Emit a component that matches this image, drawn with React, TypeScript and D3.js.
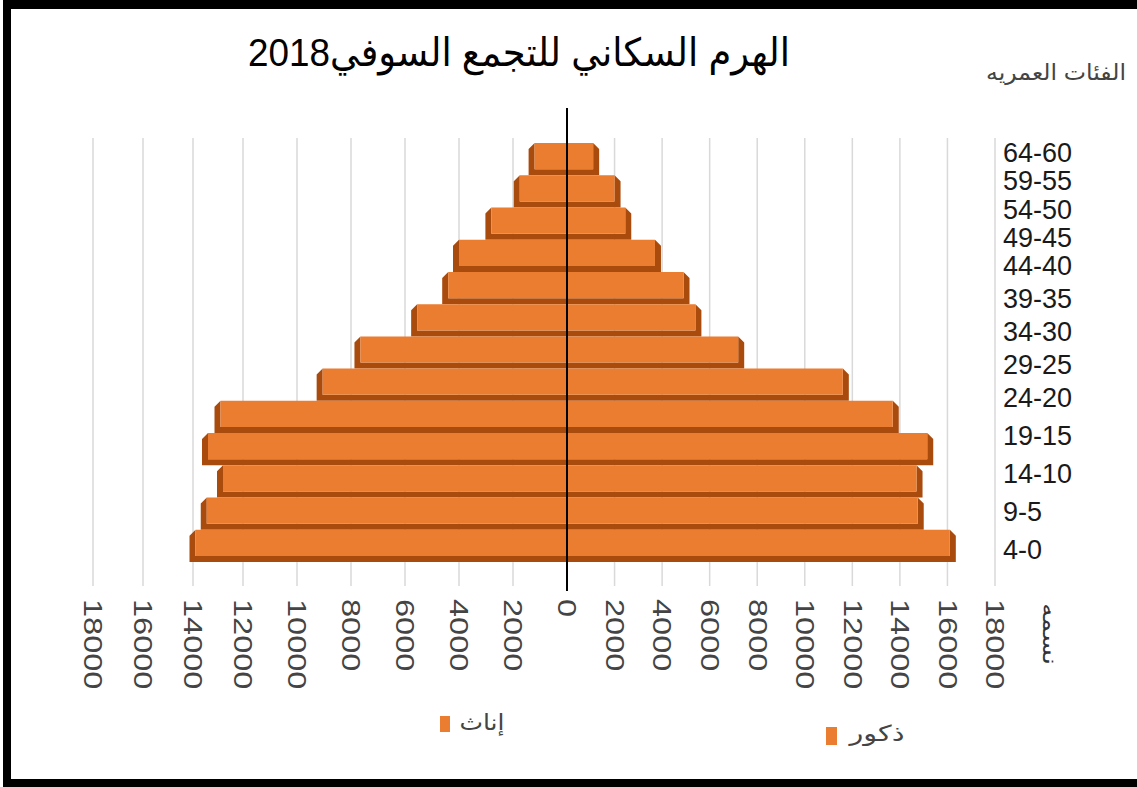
import React from 'react';
import * as d3 from 'd3';

const ageGroups = ['64-60', '59-55', '54-50', '49-45', '44-40', '39-35', '34-30', '29-25', '24-20', '19-15', '14-10', '9-5', '4-0'];
const females = [1200, 1750, 2800, 4000, 4400, 5550, 7650, 9050, 12900, 13400, 12800, 13450, 13900];
const males = [1100, 2000, 2450, 3700, 4900, 5400, 7200, 11600, 13700, 15150, 14700, 14750, 16100];
const tickValues = [-18000, -16000, -14000, -12000, -10000, -8000, -6000, -4000, -2000, 0, 2000, 4000, 6000, 8000, 10000, 12000, 14000, 16000, 18000];
const titleText = 'الهرم السكاني للتجمع السوفي2018';
const categoryTitle = 'الفئات العمريه';
const unitTitle = 'نسمه';
const seriesNames = ['إناث', 'ذكور'];

const W = 1137;
const H = 787;
const FACE = '#EB7D30';
const DARK = '#AA4B0E';
const FONT = '"Liberation Sans", Arial, "DejaVu Sans", sans-serif';

export default function App() {
  const x = d3.scaleLinear().domain([-18000, -12000, 0, 18000]).range([93, 243, 567, 995]);
  const y = d3.scaleBand<string>().domain(ageGroups).range([143, 562]).paddingInner(0).paddingOuter(0);
  // category labels sit on their own (slightly perspective-distorted) axis
  const yLab = d3.scaleLinear().domain([0, 4, 8, 12]).range([153, 266, 398, 550]);
  const x0 = x(0);
  const bh = y.bandwidth();
  const d = Math.round(bh * 0.18);

  const barPaths = (val: number, side: number, age: string) => {
    const y0 = y(age)!;
    const y1 = y0 + bh;
    const xe = x(side * val);
    const p = d3.path();
    p.moveTo(xe, y0);
    p.lineTo(xe + side * d, y0 + d);
    p.lineTo(xe + side * d, y1);
    p.lineTo(x0, y1);
    p.lineTo(x0, y1 - d);
    p.lineTo(xe, y1 - d);
    p.closePath();
    const face = d3.path();
    face.rect(Math.min(xe, x0), y0, Math.abs(xe - x0), bh - d);
    return { dark: p.toString(), face: face.toString() };
  };

  return (
    <svg width={W} height={H} style={{ position: 'absolute', left: 0, top: 0, background: '#fff' }} fontFamily={FONT}>
      <rect x={0} y={0} width={W} height={H} fill="#fff" />
      {/* frame */}
      <rect x={3} y={0} width={W - 3} height={9} fill="#000" />
      <rect x={3} y={0} width={8} height={H} fill="#000" />
      <rect x={3} y={779} width={W - 3} height={8} fill="#000" />

      {/* title */}
      <text x={519} y={66} fontSize={39} textAnchor="middle" textLength={542} lengthAdjust="spacingAndGlyphs" fill="#000">
        {titleText}
      </text>
      <text x={1056} y={80} fontSize={22} textAnchor="middle" textLength={140} lengthAdjust="spacingAndGlyphs" fill="#444">
        {categoryTitle}
      </text>

      {/* gridlines */}
      {tickValues.filter((v) => v !== 0).map((v) => (
        <line key={'g' + v} x1={x(v)} x2={x(v)} y1={138} y2={586} stroke="#d9d9d9" strokeWidth={1.5} />
      ))}

      {/* bars */}
      {ageGroups.map((age, i) => {
        const f = barPaths(females[i], -1, age);
        const m = barPaths(males[i], 1, age);
        return (
          <g key={age}>
            <path d={f.dark} fill={DARK} />
            <path d={f.face} fill={FACE} />
            <path d={m.dark} fill={DARK} />
            <path d={m.face} fill={FACE} />
          </g>
        );
      })}

      {/* central axis */}
      <line x1={x0} x2={x0} y1={108} y2={591} stroke="#000" strokeWidth={2} />

      {/* category labels */}
      {ageGroups.map((age, i) => (
        <text key={'l' + age} x={1003} y={yLab(i)} fontSize={27} dominantBaseline="central" fill="#1a1a1a">
          {age}
        </text>
      ))}

      {/* tick labels */}
      {tickValues.map((v) => (
        <text
          key={'t' + v}
          transform={`translate(${x(v)},599) rotate(90) scale(1.3,1)`}
          fontSize={25}
          dominantBaseline="central"
          textAnchor="start"
          fill="#444"
        >
          {Math.abs(v)}
        </text>
      ))}
      <text transform="translate(1050,634) rotate(90)" fontSize={20} textAnchor="middle" dominantBaseline="central" textLength={62} lengthAdjust="spacingAndGlyphs" fill="#333">
        {unitTitle}
      </text>

      {/* legend */}
      <rect x={440} y={716} width={10} height={16} fill={FACE} />
      <text x={482} y={730} fontSize={22} textAnchor="middle" textLength={45} lengthAdjust="spacingAndGlyphs" fill="#444">
        {seriesNames[0]}
      </text>
      <rect x={826} y={727} width={11} height={18} fill={FACE} />
      <text x={877} y={741} fontSize={22} textAnchor="middle" textLength={55} lengthAdjust="spacingAndGlyphs" fill="#444">
        {seriesNames[1]}
      </text>
    </svg>
  );
}
